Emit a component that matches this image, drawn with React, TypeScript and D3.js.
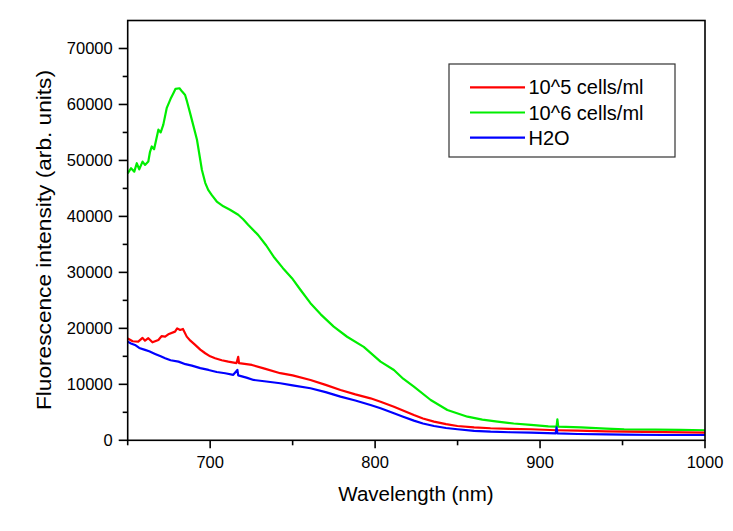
import React from "react";
import * as d3 from "d3";

const xTicksMajor = [700, 800, 900, 1000];
const xTicksMinor = [650, 750, 850, 950];
const yTicksMajor = [0, 10000, 20000, 30000, 40000, 50000, 60000, 70000];
const yTicksMinor = [5000, 15000, 25000, 35000, 45000, 55000, 65000];

const seriesNames = ["10^5 cells/ml", "10^6 cells/ml", "H2O"];
const seriesColors = ["#ff0000", "#00ee00", "#0000ff"];

const greenWl = [650, 652, 654, 655.5, 657, 659, 660.5, 662.5, 663.5, 664.6, 666, 668.6, 670, 671.6, 673.7, 676, 677.7, 679, 681.4, 683, 684.8, 686, 687.8, 690, 692, 695, 697, 698.8, 701, 704, 708, 712, 717, 720, 723, 729, 734, 738.5, 744, 749.6, 754.7, 760.8, 767, 774.9, 783, 793.1, 803.3, 811.4, 817, 823.5, 833.7, 843.8, 856, 865, 874.2, 884, 894.4, 905, 910, 910.5, 911, 924.8, 940, 951, 970, 985, 1000];
const greenVal = [47700, 48600, 48000, 49500, 48400, 49800, 49200, 49800, 51500, 52500, 52000, 55500, 55000, 56400, 59400, 61000, 62000, 62800, 62900, 62300, 61700, 60500, 58500, 56000, 53700, 48300, 46000, 44750, 43800, 42660, 41800, 41200, 40300, 39500, 38500, 36700, 34800, 32800, 30800, 28970, 26900, 24500, 22500, 20300, 18500, 16700, 14050, 12570, 11000, 9580, 7200, 5420, 4220, 3700, 3330, 3000, 2740, 2500, 2450, 3750, 2450, 2320, 2100, 1960, 1900, 1850, 1800];

const redWl = [650, 653, 656.4, 659, 660.5, 662.5, 665, 668.6, 670.5, 672.7, 675, 678.7, 680, 681.8, 683.5, 685.8, 688, 690.9, 694, 697, 700, 703, 707, 711, 716, 717, 717.5, 725.3, 733, 742.5, 750, 760.8, 770, 779, 788, 797.2, 803.3, 811.4, 823.5, 829, 835.7, 843, 849.9, 860, 870, 882, 894.4, 910, 922.8, 940, 951, 975, 1000];
const redVal = [18200, 17700, 17630, 18300, 17800, 18240, 17500, 17930, 18600, 18520, 19000, 19420, 20000, 19720, 19900, 18520, 17800, 17040, 16200, 15550, 15000, 14660, 14300, 14050, 13800, 14900, 13800, 13460, 12800, 11990, 11600, 10780, 9900, 8990, 8200, 7500, 6900, 6010, 4520, 3900, 3330, 2900, 2560, 2300, 2150, 2050, 1970, 1800, 1720, 1600, 1540, 1450, 1360];

const blueWl = [650, 652, 654.4, 657, 660.5, 663, 666.6, 670, 672.7, 676, 680.8, 685, 688.9, 694, 699, 704, 709.1, 714, 716.5, 717, 722, 726.3, 734, 742.5, 750, 760.8, 770, 779, 788, 797.2, 803.3, 811.4, 817, 823.5, 829, 835.7, 843, 849.9, 860, 870, 882, 894.4, 909.5, 910, 910.5, 922.8, 940, 951, 975, 1000];
const blueVal = [17630, 17300, 17040, 16500, 16150, 15900, 15430, 15000, 14660, 14300, 14050, 13600, 13340, 12900, 12570, 12200, 11980, 11700, 12570, 11600, 11200, 10780, 10500, 10190, 9800, 9300, 8600, 7800, 7100, 6310, 5720, 4830, 4200, 3510, 3000, 2560, 2200, 1970, 1700, 1540, 1440, 1360, 1250, 2320, 1250, 1130, 1050, 1000, 950, 950];

const W = 733;
const H = 531;
const left = 127.7;
const right = 705;
const top = 20.5;
const bottom = 440.3;
const FONT = "'Liberation Sans', Arial, sans-serif";

export default function App() {
  const x = d3.scaleLinear().domain([650, 1000]).range([left, right]);
  const y = d3.scaleLinear().domain([0, 75000]).range([bottom, top]);
  const line = d3
    .line<[number, number]>()
    .x((d) => x(d[0]))
    .y((d) => y(d[1]));

  const series = [
    { wl: greenWl, val: greenVal, color: seriesColors[1] },
    { wl: redWl, val: redVal, color: seriesColors[0] },
    { wl: blueWl, val: blueVal, color: seriesColors[2] },
  ];

  return (
    <svg
      width={W}
      height={H}
      style={{ position: "absolute", left: 0, top: 0, background: "#fff" }}
    >
      <rect x={0} y={0} width={W} height={H} fill="#fff" />
      {series.map((s, i) => (
        <path
          key={i}
          d={line(s.wl.map((w, j) => [w, s.val[j]] as [number, number])) || ""}
          fill="none"
          stroke={s.color}
          strokeWidth={2.2}
          strokeLinejoin="round"
        />
      ))}
      {/* frame */}
      <rect
        x={left}
        y={top}
        width={right - left}
        height={bottom - top}
        fill="none"
        stroke="#000"
        strokeWidth={1.6}
      />
      {/* x ticks */}
      {xTicksMajor.map((t) => (
        <g key={"xM" + t}>
          <line x1={x(t)} x2={x(t)} y1={bottom} y2={bottom + 8} stroke="#000" strokeWidth={1.6} />
          <text
            x={x(t)}
            y={462.3}
            textAnchor="middle"
            dominantBaseline="central"
            fontFamily={FONT}
            fontSize={16.5}
            fill="#000"
          >
            {t}
          </text>
        </g>
      ))}
      {xTicksMinor.map((t) => (
        <line key={"xm" + t} x1={x(t)} x2={x(t)} y1={bottom} y2={bottom + 5} stroke="#000" strokeWidth={1.6} />
      ))}
      {/* y ticks */}
      {yTicksMajor.map((t) => (
        <g key={"yM" + t}>
          <line x1={left - 9} x2={left} y1={y(t)} y2={y(t)} stroke="#000" strokeWidth={1.6} />
          <text
            x={112.7}
            y={y(t)}
            textAnchor="end"
            dominantBaseline="central"
            fontFamily={FONT}
            fontSize={16.5}
            fill="#000"
          >
            {t}
          </text>
        </g>
      ))}
      {yTicksMinor.map((t) => (
        <line key={"ym" + t} x1={left - 5} x2={left} y1={y(t)} y2={y(t)} stroke="#000" strokeWidth={1.6} />
      ))}
      {/* axis titles */}
      <text
        x={416}
        y={500.5}
        textAnchor="middle"
        fontFamily={FONT}
        fontSize={20.5}
        fill="#000"
      >
        Wavelength (nm)
      </text>
      <text
        transform={`translate(51,240) rotate(-90)`}
        textAnchor="middle"
        fontFamily={FONT}
        fontSize={21}
        textLength={340}
        lengthAdjust="spacingAndGlyphs"
        fill="#000"
      >
        Fluorescence intensity (arb. units)
      </text>
      {/* legend */}
      <rect x={449} y={64} width={226} height={93} fill="#fff" stroke="#333" strokeWidth={1.2} />
      {seriesNames.map((n, i) => (
        <g key={n}>
          <line
            x1={470}
            x2={525}
            y1={87.3 + i * 25.2}
            y2={87.3 + i * 25.2}
            stroke={seriesColors[i]}
            strokeWidth={2.2}
          />
          <text
            x={528.5}
            y={87.3 + i * 25.2}
            dominantBaseline="central"
            fontFamily={FONT}
            fontSize={20}
            fill="#000"
          >
            {n}
          </text>
        </g>
      ))}
    </svg>
  );
}
